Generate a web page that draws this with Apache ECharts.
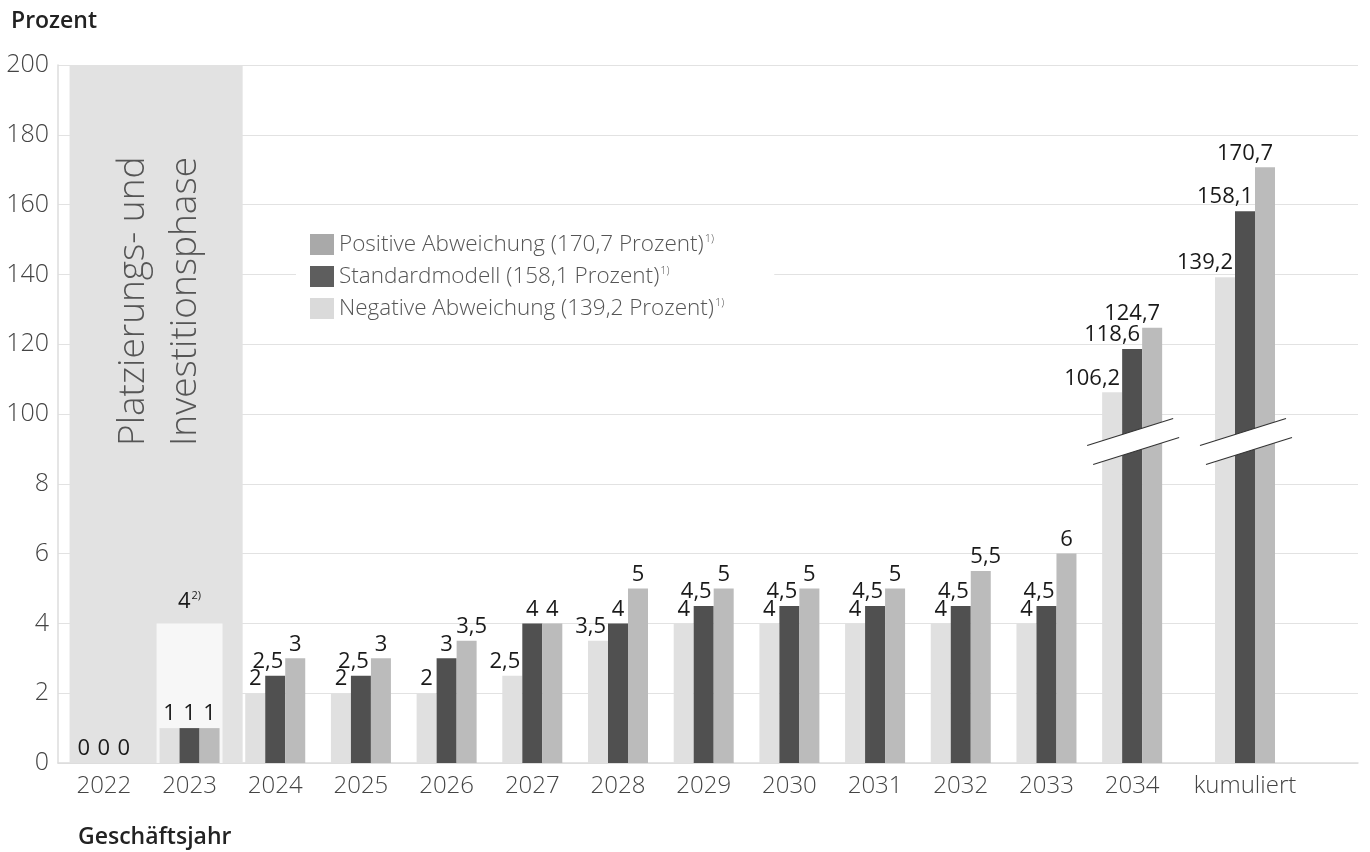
<!DOCTYPE html>
<html><head><meta charset="utf-8">
<script src="https://cdn.jsdelivr.net/npm/echarts@6/dist/echarts.min.js"></script>
<style>html,body{margin:0;padding:0;background:#fff}#c{width:1370px;height:852px}</style>
</head><body><div id="c"></div>
<script>
// ---------- data ----------
const years = ['2022','2023','2024','2025','2026','2027','2028','2029','2030','2031','2032','2033','2034'];
const cumCategory = ['kumuliert'];
const negativeVals = [0, 1, 2, 2, 2, 2.5, 3.5, 4, 4, 4, 4, 4, 106.2];
const standardVals = [0, 1, 2.5, 2.5, 3, 4, 4, 4.5, 4.5, 4.5, 4.5, 4.5, 118.6];
const positiveVals = [0, 1, 3, 3, 3.5, 4, 5, 5, 5, 5, 5.5, 6, 124.7];
const negativeCum = [139.2];
const standardCum = [158.1];
const positiveCum = [170.7];
const placementBoxVals = [null, 4, null, null, null, null, null, null, null, null, null, null, null];
const yTickLabels = ['0','2','4','6','8','100','120','140','160','180','200'];
const seriesNames = ['Negative Abweichung (139,2 Prozent)', 'Standardmodell (158,1 Prozent)', 'Positive Abweichung (170,7 Prozent)'];
const phaseText = ['Platzierungs- und', 'Investitionsphase'];

// ---------- helpers ----------
const FONT = '"Open Sans", "Noto Sans", sans-serif';
const COLORS = ['#e0e0e0', '#505050', '#bbbbbb'];
const LEGEND_COLORS = ['#dadada', '#5e5e5e', '#a9a9a9'];
// broken axis: 0..8 in steps of 2, then 100..200 in steps of 20, equally spaced
function toAxis(v) { return v <= 8 ? v / 2 : 4 + (v - 80) / 20; }
function fmt(v) { return String(v).replace('.', ','); }

function makeData(vals, sIdx) {
  return vals.map(v => {
    const t = fmt(v);
    let label;
    if (t.length === 1) label = { align: 'center', offset: [0, 0] };
    else if (sIdx === 2 && v < 10) label = { align: 'center', offset: [5, 0] };
    else label = { align: 'right', offset: [8, 0] };
    return { value: toAxis(v), raw: v, label };
  });
}

const labelStyle = {
  show: true, position: 'top', distance: 3,
  fontFamily: FONT, fontSize: 22, color: '#1a1a1a',
  formatter: p => fmt(p.data.raw)
};

const series = [];
const groups = [
  { vals: [negativeVals, standardVals, positiveVals], x: 1, y: 1 },
  { vals: [negativeCum, standardCum, positiveCum], x: 2, y: 2 }
];
groups.forEach(g => {
  g.vals.forEach((vals, i) => {
    series.push({
      type: 'bar', name: seriesNames[i], xAxisIndex: g.x, yAxisIndex: g.y,
      barWidth: 20, barGap: '0%', z: 3,
      itemStyle: { color: COLORS[i] },
      label: labelStyle,
      data: makeData(vals, i)
    });
  });
});
// 2023 placement box (background bar)
series.push({
  type: 'bar', name: 'box', xAxisIndex: 3, yAxisIndex: 1, barWidth: 66, z: 2,
  itemStyle: { color: '#f7f7f7' }, silent: true,
  label: {
    show: true, position: 'top', distance: 11, fontFamily: FONT,
    formatter: p => '{n|' + fmt(p.data.raw) + '}{s|2)}',
    rich: {
      n: { fontSize: 22, color: '#1a1a1a', fontFamily: FONT },
      s: { fontSize: 11, color: '#1a1a1a', fontFamily: FONT, verticalAlign: 'top', padding: [0, 0, 10, 1] }
    }
  },
  data: placementBoxVals.map(v => v == null ? null : { value: toAxis(v), raw: v })
});

const TOP = 65, BOTTOM = 89;
const xLabel = { fontFamily: FONT, fontSize: 24, fontWeight: 300, color: '#444', margin: 11 };

const option = {
  animation: false,
  textStyle: { fontFamily: FONT },
  title: [
    { text: 'Prozent', left: 6, top: 5, textStyle: { fontFamily: FONT, fontSize: 23, fontWeight: 600, color: '#222' } },
    { text: 'Geschäftsjahr', left: 73, top: 821, textStyle: { fontFamily: FONT, fontSize: 23, fontWeight: 600, color: '#222' } }
  ],
  legend: {
    left: 296, top: 229, orient: 'vertical',
    backgroundColor: '#fff', padding: [4, 50, 4, 14],
    itemWidth: 24, itemHeight: 21, itemGap: 9,
    icon: 'rect',
    data: [2, 1, 0].map(i => ({ name: seriesNames[i], itemStyle: { color: LEGEND_COLORS[i] } })),
    formatter: n => '{t|' + n + '}{s|1)}',
    textStyle: {
      fontFamily: FONT, fontSize: 22.5, fontWeight: 300, color: '#555',
      rich: {
        t: { fontFamily: FONT, fontSize: 22.5, fontWeight: 300, color: '#555' },
        s: { fontFamily: FONT, fontSize: 11, color: '#555', verticalAlign: 'top', padding: [0, 0, 11, 1] }
      }
    }
  },
  grid: [
    { left: 58, right: 12, top: TOP, bottom: BOTTOM },
    { left: 61, width: 1114, top: TOP, bottom: BOTTOM },
    { left: 1200, width: 90, top: TOP, bottom: BOTTOM }
  ],
  xAxis: [
    { gridIndex: 0, type: 'value', min: 0, max: 1, axisLine: { show: true, lineStyle: { color: '#dcdcdc', width: 1.5 } },
      axisTick: { show: false }, axisLabel: { show: false }, splitLine: { show: false } },
    { gridIndex: 1, type: 'category', data: years, axisLine: { show: false }, axisTick: { show: false }, axisLabel: xLabel },
    { gridIndex: 2, type: 'category', data: cumCategory, axisLine: { show: false }, axisTick: { show: false }, axisLabel: xLabel },
    { gridIndex: 1, type: 'category', data: years, show: false }
  ],
  yAxis: [
    { gridIndex: 0, type: 'value', min: 0, max: 10, interval: 1,
      axisLine: { show: true, lineStyle: { color: '#dcdcdc', width: 1.5 } }, axisTick: { show: false },
      axisLabel: { fontFamily: FONT, fontSize: 25, fontWeight: 300, color: '#444', margin: 9,
                   formatter: v => yTickLabels[Math.round(v)] },
      splitLine: { lineStyle: { color: '#e2e2e2', width: 1.2 } } },
    { gridIndex: 1, type: 'value', min: 0, max: 10, show: false, splitLine: { show: false } },
    { gridIndex: 2, type: 'value', min: 0, max: 10, show: false, splitLine: { show: false } }
  ],
  series
};

const chart = echarts.init(document.getElementById('c'), null, { renderer: 'canvas' });
chart.setOption(option);

// ---------- decorations computed from the axes ----------
const c2022 = chart.convertToPixel({ gridIndex: 1 }, [0, 0]);
const c2023 = chart.convertToPixel({ gridIndex: 1 }, [1, 10]);
const bw = 1114 / years.length;
const yTop = c2023[1], yBot = c2022[1];
const shadeX0 = c2022[0] - 0.4 * bw, shadeX1 = c2023[0] + 0.62 * bw;
const shadeMid = (shadeX0 + shadeX1) / 2;

const breakY = 4.62;
function breakMark(pt) {
  const cx = pt[0], cy = pt[1];
  const u0 = [cx - 45, cy + 5], u1 = [cx + 41, cy - 22];
  const l0 = [cx - 39, cy + 24], l1 = [cx + 47, cy - 3];
  return [
    { type: 'polygon', z: 10, shape: { points: [u0, u1, l1, l0] }, style: { fill: '#fff' } },
    { type: 'line', z: 11, shape: { x1: u0[0], y1: u0[1], x2: u1[0], y2: u1[1] }, style: { stroke: '#333', lineWidth: 1.2 } },
    { type: 'line', z: 11, shape: { x1: l0[0], y1: l0[1], x2: l1[0], y2: l1[1] }, style: { stroke: '#333', lineWidth: 1.2 } }
  ];
}
const p2034 = chart.convertToPixel({ gridIndex: 1 }, [years.length - 1, breakY]);
const pCum = chart.convertToPixel({ gridIndex: 2 }, [0, breakY]);

chart.setOption({
  graphic: { elements: [
    { type: 'rect', z: 1, silent: true, shape: { x: shadeX0, y: yTop, width: shadeX1 - shadeX0, height: yBot - yTop },
      style: { fill: '#e2e2e2' } },
    { type: 'text', z: 1, silent: true, x: shadeMid - 23, y: 446, rotation: Math.PI / 2,
      style: { text: phaseText[0], font: '300 37px ' + FONT, fill: '#555', align: 'left', verticalAlign: 'middle' } },
    { type: 'text', z: 1, silent: true, x: shadeMid + 29, y: 446, rotation: Math.PI / 2,
      style: { text: phaseText[1], font: '300 37px ' + FONT, fill: '#555', align: 'left', verticalAlign: 'middle' } },
    ...breakMark(p2034),
    ...breakMark(pCum)
  ] }
});
</script>
</body></html>
